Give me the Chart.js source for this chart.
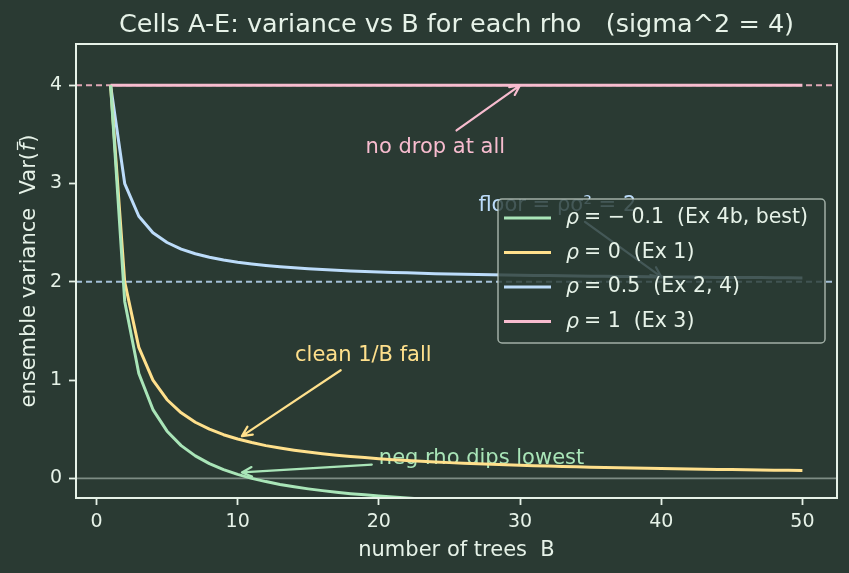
<!DOCTYPE html>
<html>
<head>
<meta charset="utf-8">
<script src="https://cdn.jsdelivr.net/npm/chart.js@4.4.1/dist/chart.umd.min.js"></script>
<style>
  html, body { margin: 0; padding: 0; background: #2a3a33; }
  canvas { display: block; }
</style>
</head>
<body>
<canvas id="chart" width="849" height="573"></canvas>
<script>
'use strict';

// number of trees
const treesB = [1, 2, 3, 4, 5, 6, 7, 8, 9, 10, 11, 12, 13, 14, 15, 16, 17, 18, 19, 20,
  21, 22, 23, 24, 25, 26, 27, 28, 29, 30, 31, 32, 33, 34, 35, 36, 37, 38, 39, 40,
  41, 42, 43, 44, 45, 46, 47, 48, 49, 50];

// variance
const varRhoNeg = [4.0, 1.8, 1.067, 0.7, 0.48, 0.333, 0.229, 0.15, 0.089, 0.04,
  0.0, -0.033, -0.062, -0.086, -0.107, -0.125, -0.141, -0.156, -0.168, -0.18,
  -0.19, -0.2, -0.209, -0.217, -0.224, -0.231, -0.237, -0.243, -0.248, -0.253,
  -0.258, -0.263, -0.267, -0.271, -0.274, -0.278, -0.281, -0.284, -0.287, -0.29,
  -0.293, -0.295, -0.298, -0.3, -0.302, -0.304, -0.306, -0.308, -0.31, -0.312];
const varRho0 = [4, 2, 1.333, 1, 0.8, 0.667, 0.571, 0.5, 0.444, 0.4,
  0.364, 0.333, 0.308, 0.286, 0.267, 0.25, 0.235, 0.222, 0.211, 0.2,
  0.19, 0.182, 0.174, 0.167, 0.16, 0.154, 0.148, 0.143, 0.138, 0.133,
  0.129, 0.125, 0.121, 0.118, 0.114, 0.111, 0.108, 0.105, 0.103, 0.1,
  0.098, 0.095, 0.093, 0.091, 0.089, 0.087, 0.085, 0.083, 0.082, 0.08];
const varRhoHalf = [4, 3, 2.667, 2.5, 2.4, 2.333, 2.286, 2.25, 2.222, 2.2,
  2.182, 2.167, 2.154, 2.143, 2.133, 2.125, 2.118, 2.111, 2.105, 2.1,
  2.095, 2.091, 2.087, 2.083, 2.08, 2.077, 2.074, 2.071, 2.069, 2.067,
  2.065, 2.063, 2.061, 2.059, 2.057, 2.056, 2.054, 2.053, 2.051, 2.05,
  2.049, 2.048, 2.047, 2.045, 2.044, 2.043, 2.043, 2.042, 2.041, 2.04];
const varRho1 = [4, 4, 4, 4, 4, 4, 4, 4, 4, 4, 4, 4, 4, 4, 4, 4, 4, 4, 4, 4,
  4, 4, 4, 4, 4, 4, 4, 4, 4, 4, 4, 4, 4, 4, 4, 4, 4, 4, 4, 4,
  4, 4, 4, 4, 4, 4, 4, 4, 4, 4];

const seriesLabels = ['= \u2212 0.1  (Ex 4b, best)', '= 0  (Ex 1)', '= 0.5  (Ex 2, 4)', '= 1  (Ex 3)'];
const seriesColors = ['#a9e5b8', '#ffe08c', '#bcdcfa', '#f7bccf'];
const xTicks = [0, 10, 20, 30, 40, 50];
const yTicks = [0, 1, 2, 3, 4];

const bg = '#2a3a33';
const fg = '#e6f2e8';
const FONT = '"DejaVu Sans", sans-serif';

function toPoints (vals) {
  return treesB.map(function (b, i) { return { x: b, y: vals[i] }; });
}

function arrow (ctx, x1, y1, x2, y2, color) {
  ctx.save();
  ctx.strokeStyle = color;
  ctx.lineWidth = 2.2;
  ctx.lineCap = 'round';
  ctx.lineJoin = 'round';
  ctx.beginPath();
  ctx.moveTo(x1, y1);
  ctx.lineTo(x2, y2);
  let a = Math.atan2(y2 - y1, x2 - x1);
  let h = 11;
  ctx.moveTo(x2 - h * Math.cos(a - 0.45), y2 - h * Math.sin(a - 0.45));
  ctx.lineTo(x2, y2);
  ctx.lineTo(x2 - h * Math.cos(a + 0.45), y2 - h * Math.sin(a + 0.45));
  ctx.stroke();
  ctx.restore();
}

// reference lines + notes, under the curves
const behindPlugin = {
  id: 'behind',
  beforeDraw: function (chart) {
    let ctx = chart.ctx;
    ctx.save();
    ctx.fillStyle = bg;
    ctx.fillRect(0, 0, chart.width, chart.height);
    ctx.restore();
  },
  beforeDatasetsDraw: function (chart) {
    let ctx = chart.ctx;
    let xs = chart.scales.x, ys = chart.scales.y;
    let a = chart.chartArea;
    ctx.save();
    ctx.beginPath();
    ctx.rect(a.left, a.top, a.right - a.left, a.bottom - a.top);
    ctx.clip();

    ctx.lineWidth = 1.6;
    ctx.strokeStyle = '#7d8c84';
    ctx.beginPath();
    ctx.moveTo(a.left, ys.getPixelForValue(0));
    ctx.lineTo(a.right, ys.getPixelForValue(0));
    ctx.stroke();

    ctx.setLineDash([6, 4]);
    ctx.lineWidth = 2;
    ctx.strokeStyle = '#e0a8b6';
    ctx.beginPath();
    ctx.moveTo(a.left, ys.getPixelForValue(4));
    ctx.lineTo(a.right, ys.getPixelForValue(4));
    ctx.stroke();
    ctx.strokeStyle = '#a6c2da';
    ctx.beginPath();
    ctx.moveTo(a.left, ys.getPixelForValue(2));
    ctx.lineTo(a.right, ys.getPixelForValue(2));
    ctx.stroke();
    ctx.setLineDash([]);

    let px = function (v) { return xs.getPixelForValue(v); };
    let py = function (v) { return ys.getPixelForValue(v); };

    ctx.font = '21px ' + FONT;
    ctx.textBaseline = 'middle';

    // no drop at all
    ctx.fillStyle = seriesColors[3];
    ctx.textAlign = 'center';
    ctx.fillText('no drop at all', px(24), py(3.37));
    arrow(ctx, px(25.5), py(3.54), px(30), py(4), seriesColors[3]);

    // floor
    ctx.fillStyle = seriesColors[2];
    ctx.textAlign = 'left';
    ctx.fillText('floor = \u03c1\u03c3\u00b2 = 2', px(27.05), py(2.78));
    arrow(ctx, px(34.6), py(2.61), px(40), py(2.05), seriesColors[2]);

    // clean 1/B fall
    ctx.fillStyle = seriesColors[1];
    ctx.textAlign = 'center';
    ctx.fillText('clean 1/B fall', px(18.9), py(1.25));
    arrow(ctx, px(17.3), py(1.1), px(10.3), py(0.43), seriesColors[1]);

    // neg rho
    ctx.fillStyle = seriesColors[0];
    ctx.textAlign = 'left';
    ctx.fillText('neg rho dips lowest', px(20), py(0.2));
    arrow(ctx, px(19.5), py(0.14), px(10.3), py(0.06), seriesColors[0]);

    ctx.restore();
  },
  afterDraw: function (chart) {
    let ctx = chart.ctx;
    let a = chart.chartArea;
    ctx.save();

    // frame
    ctx.strokeStyle = fg;
    ctx.lineWidth = 2;
    ctx.strokeRect(a.left, a.top, a.right - a.left, a.bottom - a.top);

    // title and axis labels
    ctx.fillStyle = fg;
    ctx.textAlign = 'center';
    ctx.textBaseline = 'middle';
    ctx.font = '25.5px ' + FONT;
    ctx.fillText('Cells A-E: variance vs B for each rho   (sigma^2 = 4)', (a.left + a.right) / 2, 25);
    ctx.font = '21px ' + FONT;
    ctx.textBaseline = 'alphabetic';
    ctx.fillText('number of trees  B', (a.left + a.right) / 2, 556);

    // y label: ensemble variance  Var(f-bar), f italic with a bar
    ctx.save();
    ctx.translate(35, (a.top + a.bottom) / 2);
    ctx.rotate(-Math.PI / 2);
    ctx.textAlign = 'left';
    let p1 = 'ensemble variance  Var(';
    let p3 = ')';
    ctx.font = '21px ' + FONT;
    let w1 = ctx.measureText(p1).width;
    let w3 = ctx.measureText(p3).width;
    ctx.font = 'italic 21px ' + FONT;
    let w2 = ctx.measureText('f').width + 2;
    let x0 = -(w1 + w2 + w3) / 2;
    ctx.font = '21px ' + FONT;
    ctx.fillText(p1, x0, 0);
    ctx.font = 'italic 21px ' + FONT;
    ctx.fillText('f', x0 + w1 + 1, 0);
    ctx.font = '21px ' + FONT;
    ctx.fillText(p3, x0 + w1 + w2, 0);
    ctx.strokeStyle = fg;
    ctx.lineWidth = 1.3;
    ctx.beginPath();
    ctx.moveTo(x0 + w1 + 2, -17.5);
    ctx.lineTo(x0 + w1 + w2 + 1, -17.5);
    ctx.stroke();
    ctx.restore();

    // legend
    let lx = 498, ly = 199, lw = 327, lh = 144;
    ctx.globalAlpha = 0.82;
    ctx.fillStyle = bg;
    ctx.beginPath();
    ctx.roundRect(lx, ly, lw, lh, 4);
    ctx.fill();
    ctx.globalAlpha = 0.75;
    ctx.strokeStyle = '#c8d6cc';
    ctx.lineWidth = 1.5;
    ctx.stroke();
    ctx.globalAlpha = 1;
    ctx.textBaseline = 'middle';
    let rows = [218, 252.5, 287, 321.5];
    for (let i = 0; i < seriesLabels.length; i++) {
      ctx.strokeStyle = seriesColors[i];
      ctx.lineWidth = 3;
      ctx.beginPath();
      ctx.moveTo(504, rows[i]);
      ctx.lineTo(551, rows[i]);
      ctx.stroke();
      ctx.fillStyle = fg;
      ctx.textAlign = 'left';
      ctx.font = 'italic 20.5px ' + FONT;
      ctx.fillText('\u03c1', 566, rows[i] + 1);
      ctx.font = '20.5px ' + FONT;
      ctx.fillText(seriesLabels[i], 584, rows[i]);
    }
    ctx.restore();
  }
};

const ctx = document.getElementById('chart').getContext('2d');
const chart = new Chart(ctx, {
  type: 'line',
  data: {
    datasets: [
      { label: 'rho = -0.1', data: toPoints(varRhoNeg), borderColor: seriesColors[0], borderWidth: 3 },
      { label: 'rho = 0', data: toPoints(varRho0), borderColor: seriesColors[1], borderWidth: 3 },
      { label: 'rho = 0.5', data: toPoints(varRhoHalf), borderColor: seriesColors[2], borderWidth: 3 },
      { label: 'rho = 1', data: toPoints(varRho1), borderColor: seriesColors[3], borderWidth: 3 },
    ],
  },
  options: {
    responsive: false,
    devicePixelRatio: 1,
    animation: false,
    layout: { padding: { top: 44, right: 12, left: 0, bottom: 0 } },
    elements: {
      line: { borderWidth: 3, tension: 0, fill: false, borderJoinStyle: 'round' },
      point: { radius: 0 },
    },
    plugins: {
      legend: { display: false },
      title: { display: false },
      tooltip: { enabled: false },
    },
    scales: {
      x: {
        type: 'linear',
        min: -1.45,
        max: 52.45,
        afterFit: function (s) { s.height = 75; },
        afterBuildTicks: function (s) { s.ticks = xTicks.map(function (v) { return { value: v }; }); },
        grid: { drawOnChartArea: false, drawTicks: true, tickLength: 7, tickColor: fg, tickWidth: 1.8 },
        border: { display: false },
        ticks: { color: fg, font: { family: 'DejaVu Sans', size: 19 }, padding: 6, maxRotation: 0 },
      },
      y: {
        type: 'linear',
        min: -0.2,
        max: 4.42,
        afterFit: function (s) { s.width = 76; },
        afterBuildTicks: function (s) { s.ticks = yTicks.map(function (v) { return { value: v }; }); },
        grid: { drawOnChartArea: false, drawTicks: true, tickLength: 7, tickColor: fg, tickWidth: 1.8 },
        border: { display: false },
        ticks: { color: fg, font: { family: 'DejaVu Sans', size: 19 }, padding: 7 },
      },
    },
  },
  plugins: [behindPlugin],
});
</script>
</body>
</html>
